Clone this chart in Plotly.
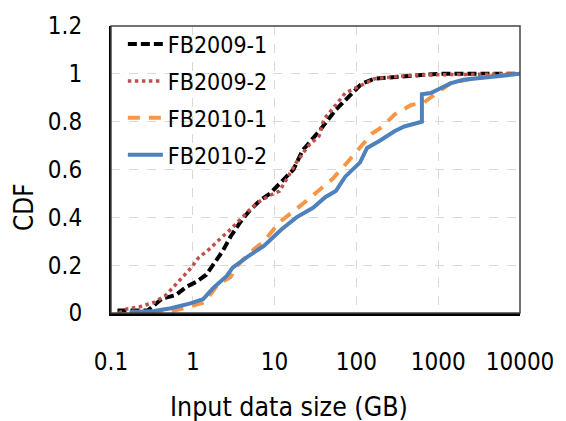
import plotly.graph_objects as go

# ---- data ----
fb2009_1_x = [0.12, 0.28, 0.42, 0.62, 0.84, 1.1, 1.46, 1.87, 2.33, 2.9, 3.8, 5.0, 6.6, 8.8,
              11.5, 17, 22, 35, 56, 89, 117, 168, 385, 1000, 10000]
fb2009_1_y = [0.01, 0.01, 0.06, 0.075, 0.11, 0.13, 0.16, 0.21, 0.26, 0.32, 0.38, 0.43, 0.47, 0.5,
              0.54, 0.6, 0.68, 0.76, 0.85, 0.92, 0.96, 0.98, 0.99, 1.0, 1.0]

fb2009_2_x = [0.125, 0.155, 0.22, 0.34, 0.47, 0.64, 0.77, 0.96, 1.17, 1.63, 2.0, 2.9, 4.6, 6.1,
              8.5, 11.5, 18.5, 26, 35, 40, 56, 73, 97, 128, 168, 500, 10000]
fb2009_2_y = [0.0, 0.017, 0.025, 0.045, 0.075, 0.125, 0.15, 0.19, 0.23, 0.27, 0.30, 0.35, 0.42, 0.46,
              0.49, 0.51, 0.63, 0.70, 0.74, 0.81, 0.87, 0.92, 0.94, 0.96, 0.98, 0.995, 1.0]

fb2010_1_x = [0.17, 0.5, 0.885, 1.4, 2.03, 2.9, 3.33, 4.9, 7.4, 11.5, 18.5, 29.5, 51, 73, 105,
              155, 210, 292, 467, 668, 957, 1410, 2660, 5600, 10000]
fb2010_1_y = [0.0, 0.005, 0.025, 0.045, 0.12, 0.15, 0.19, 0.25, 0.30, 0.38, 0.435, 0.495, 0.56, 0.62, 0.685,
              0.75, 0.78, 0.83, 0.87, 0.88, 0.92, 0.96, 0.98, 0.995, 1.0]

fb2010_2_x = [0.169, 0.337, 0.54, 0.935, 1.34, 1.78, 2.6, 3.07, 4.64, 7.4, 12.2, 18.5, 29.5, 42, 56,
              73, 111, 135, 193, 292, 385, 507, 632, 632, 811, 1070, 1410, 2020, 2890, 5010, 10000]
fb2010_2_y = [0.004, 0.008, 0.02, 0.04, 0.058, 0.105, 0.155, 0.19, 0.235, 0.28, 0.35, 0.40, 0.44, 0.485, 0.51,
              0.57, 0.63, 0.69, 0.72, 0.76, 0.78, 0.79, 0.80, 0.915, 0.92, 0.94, 0.96, 0.975, 0.98, 0.99, 1.0]

series_names = ["FB2009-1", "FB2009-2", "FB2010-1", "FB2010-2"]
x_tick_vals = [0.1, 1, 10, 100, 1000, 10000]
x_tick_text = ["0.1", "1", "10", "100", "1000", "10000"]
y_tick_vals = [0, 0.2, 0.4, 0.6, 0.8, 1.0, 1.2]
y_tick_text = ["0", "0.2", "0.4", "0.6", "0.8", "1", "1.2"]

FONT = "DejaVu Sans Condensed, DejaVu Sans, sans-serif"

fig = go.Figure()
fig.add_trace(go.Scatter(x=fb2009_1_x, y=fb2009_1_y, mode="lines", name=series_names[0],
                         legendgroup="a",
                         line=dict(color="#000000", width=4, dash="9px,4px")))
fig.add_trace(go.Scatter(x=fb2009_2_x, y=fb2009_2_y, mode="lines", name=series_names[1],
                         legendgroup="b",
                         line=dict(color="#C0504D", width=3.5, dash="3.5px,3.5px")))
fig.add_trace(go.Scatter(x=fb2010_1_x, y=fb2010_1_y, mode="lines", name=series_names[2],
                         legendgroup="c",
                         line=dict(color="#F79646", width=4, dash="12px,9px")))
fig.add_trace(go.Scatter(x=fb2010_2_x, y=fb2010_2_y, mode="lines", name=series_names[3],
                         legendgroup="d",
                         line=dict(color="#4F81BD", width=4)))

fig.update_layout(
    width=566, height=421,
    margin=dict(l=111, r=38, t=25, b=108),
    paper_bgcolor="white", plot_bgcolor="white",
    font=dict(family=FONT, size=24, color="black"),
    showlegend=True,
    legend=dict(x=0.029, y=1.012, xanchor="left", yanchor="top",
                bgcolor="rgba(0,0,0,0)", font=dict(size=23, family=FONT),
                tracegroupgap=4, itemwidth=35),
    xaxis=dict(type="log", range=[-1, 4], tickvals=x_tick_vals, ticktext=x_tick_text,
               showgrid=True, gridcolor="#d9d9d9", griddash="dash", gridwidth=1,
               showline=True, linecolor="black", linewidth=2.5, mirror=False,
               ticks="", ticklabelstandoff=25, zeroline=False, ticklabeloverflow="allow",
               tickfont=dict(size=24)),
    yaxis=dict(range=[0, 1.2], tickvals=y_tick_vals, ticktext=y_tick_text,
               showgrid=True, gridcolor="#d9d9d9", griddash="dash", gridwidth=1,
               showline=True, linecolor="black", linewidth=2, mirror=False,
               ticks="", ticklabelstandoff=22, zeroline=False,
               tickfont=dict(size=24)),
    shapes=[dict(type="rect", xref="paper", yref="paper", x0=0, y0=0, x1=1, y1=1,
                 line=dict(color="#444444", width=1.5), layer="above")],
    annotations=[
        dict(text="CDF", xref="paper", yref="paper", x=-0.211, y=0.368, xanchor="center",
             yanchor="middle", textangle=-90, showarrow=False, font=dict(size=26)),
        dict(text="Input data size (GB)", xref="paper", yref="paper", x=0.436, y=-0.326,
             xanchor="center", yanchor="middle", showarrow=False, font=dict(size=26.5)),
    ],
)

fig.write_html("out.html", config={"displayModeBar": False},
               post_script="document.body.style.margin='0';document.body.style.overflow='hidden';")
